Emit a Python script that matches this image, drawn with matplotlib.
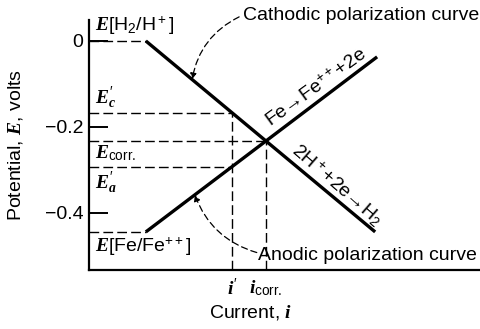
import numpy as np
import matplotlib
matplotlib.use("Agg")
import matplotlib.pyplot as plt

plt.rcParams['font.family'] = ['Liberation Sans', 'DejaVu Sans']
plt.rcParams['mathtext.fontset'] = 'custom'
plt.rcParams['mathtext.rm'] = 'Liberation Sans'
plt.rcParams['mathtext.sf'] = 'Liberation Sans'
plt.rcParams['mathtext.it'] = 'Liberation Serif:italic:bold'
plt.rcParams['mathtext.bf'] = 'Liberation Serif:bold'

# polarization lines (current in arbitrary units, potential in volts)
cath_i = [1.45, 7.3]
cath_E = [0.0, -0.444]
anod_i = [1.45, 7.35]
anod_E = [-0.444, -0.037]
E_H = 0.0
E_Fe = -0.444
i_prime = 3.65

ytick_vals = [0, -0.2, -0.4]
ytick_labels = ["0", "\u22120.2", "\u22120.4"]

# intersection of the two lines -> corrosion point
mc = (cath_E[1] - cath_E[0]) / (cath_i[1] - cath_i[0])
ma = (anod_E[1] - anod_E[0]) / (anod_i[1] - anod_i[0])
i_corr = (anod_E[0] - cath_E[0] + mc * cath_i[0] - ma * anod_i[0]) / (mc - ma)
E_corr = cath_E[0] + mc * (i_corr - cath_i[0])
E_c = np.interp(i_prime, cath_i, cath_E)
E_a = np.interp(i_prime, anod_i, anod_E)

fig = plt.figure(figsize=(4.81, 3.29), dpi=100)
ax = fig.add_axes([0.185, 0.1793, 0.815, 0.760])
ax.set_xlim(0, 10)
ax.set_ylim(-0.5326, 0.0488)

for s in ['top', 'right']:
    ax.spines[s].set_visible(False)
for s in ['left', 'bottom']:
    ax.spines[s].set_linewidth(1.6)

k = 'black'
ax.plot(cath_i, cath_E, color=k, lw=2.4, solid_capstyle='butt')
ax.plot(anod_i, anod_E, color=k, lw=2.4, solid_capstyle='butt')

dash = dict(color=k, lw=1.0, ls=(0, (7, 3)))
ax.plot([0, cath_i[0]], [E_H, E_H], **dash)
ax.plot([0, anod_i[0]], [E_Fe, E_Fe], **dash)
ax.plot([0, i_prime], [E_c, E_c], **dash)
ax.plot([0, i_prime], [E_a, E_a], **dash)
ax.plot([0, i_corr], [E_corr, E_corr], **dash)
ax.plot([i_prime, i_prime], [-0.5326, E_c], **dash)
ax.plot([i_corr, i_corr], [-0.5326, E_corr], **dash)

ax.set_yticks(ytick_vals)
ax.set_yticklabels(ytick_labels)
ax.tick_params(axis='y', direction='in', length=14, width=1.4, labelsize=14, pad=4)
ax.set_xticks([i_prime, i_corr])
ax.set_xticklabels([r"$i'$", r"$i_{\mathrm{corr.}}$"])
ax.tick_params(axis='x', length=0, labelsize=14, pad=6)

ax.set_ylabel("Potential, $E$, volts", fontsize=14)
ax.yaxis.set_label_coords(-0.163, 0.5)
ax.set_xlabel("Current, $i$", fontsize=14)
ax.xaxis.set_label_coords(0.413, -0.13)

fs = 14
ax.text(0.15, 0.035, r"$E$[H$_2$/H$^+$]", fontsize=fs, va='center', ha='left')
ax.text(0.15, -0.1326, r"$E_c'$", fontsize=fs, va='center', ha='left')
ax.text(0.15, -0.262, r"$E_{\mathrm{corr.}}$", fontsize=fs, va='center', ha='left')
ax.text(0.15, -0.330, r"$E_a'$", fontsize=fs, va='center', ha='left')
ax.text(0.15, -0.479, r"$E$[Fe/Fe$^{++}$]", fontsize=fs, va='center', ha='left')

ax.text(5.79, -0.109, "Fe\u2192Fe$^{++}$+2e", fontsize=fs, rotation=36,
        rotation_mode='anchor', ha='center', va='center')
ax.text(6.33, -0.335, "2H$^+$+2e\u2192H$_2$", fontsize=fs, rotation=-41,
        rotation_mode='anchor', ha='center', va='center')

ax.text(3.93, 0.060, "Cathodic polarization curve", fontsize=fs, va='center', ha='left')
ax.text(4.31, -0.498, "Anodic polarization curve", fontsize=fs, va='center', ha='left')

arr = dict(arrowstyle='-|>', color=k, lw=0.9, ls=(0, (5, 3)), mutation_scale=9,
           shrinkA=0, shrinkB=0)
xa = 2.63
ax.annotate("", xy=(xa, np.interp(xa, cath_i, cath_E)), xytext=(3.83, 0.056),
            arrowprops=dict(connectionstyle="arc3,rad=0.25", **arr))
xb = 2.70
ax.annotate("", xy=(xb, np.interp(xb, anod_i, anod_E)), xytext=(4.28, -0.492),
            arrowprops=dict(connectionstyle="arc3,rad=-0.25", **arr))

fig.savefig("out.png", dpi=100)
